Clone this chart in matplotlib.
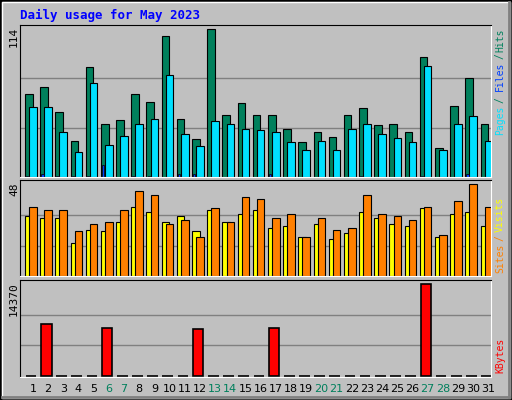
import matplotlib
matplotlib.use("Agg")
import matplotlib.pyplot as plt
from matplotlib.patches import Rectangle
import numpy as np

days = list(range(1, 32))
weekend = [6, 7, 13, 14, 20, 21, 27, 28]

hits = [63.7, 69, 50, 27.5, 84.5, 41, 43.7, 63.7, 57.5, 108.4, 44.4, 29, 114, 47.5, 56.8, 47.5,
        47.5, 36.7, 26.7, 34.4, 30.6, 47.5, 52.9, 39.8, 40.6, 34.4, 92.2, 22, 54.4, 76, 41]
pages = [53.7, 53.7, 34.4, 19, 72.2, 24.4, 31.4, 41, 44.4, 78.3, 32.9, 23.6, 42.9, 40.6, 36.7, 36,
         34.4, 26.7, 20.6, 27.5, 20.6, 36.7, 40.6, 32.9, 29.8, 26.7, 85.3, 20.6, 41, 46.8, 27.5]
files = [1, 2, 1, 1, 1, 9, 0, 1, 1, 0, 2, 2, 0, 0, 0, 0, 2, 0, 0, 0, 0, 0, 1, 0, 0, 0, 1, 0, 0, 2, 0]
visits = [31.3, 30.3, 30.3, 17.2, 24, 23.5, 28.2, 36, 33.4, 28.2, 31.3, 23.5, 34.4, 28.2, 32.3, 34.4,
          25, 26.1, 20.3, 27.1, 19.3, 22.4, 33.4, 30.3, 27.1, 26.1, 35.5, 20.3, 32.3, 33.4, 26.1]
sites = [36, 34.4, 34.4, 23.5, 27.1, 28.2, 34.4, 44.3, 42.3, 27.1, 29.2, 20.3, 35.5, 28.2, 41.2, 40.2,
         30.3, 32.3, 20.3, 30.3, 24, 25, 42.3, 32.3, 31.3, 29.2, 36, 21.4, 39.1, 48, 36]
kbytes = [0, 8047, 0, 0, 0, 7420, 0, 0, 0, 0, 0, 7263, 0, 0, 0, 0, 7420, 0, 0, 0, 0, 0, 0, 0, 0, 0,
          14370, 0, 0, 0, 0]

GRAY = "#C0C0C0"
W, H = 512, 400
MONO = "DejaVu Sans Mono"
fig = plt.figure(figsize=(5.12, 4.0), dpi=100, facecolor=GRAY)

# outer bevel
fig.patches.append(Rectangle((0, 0), 1, 1, transform=fig.transFigure, fill=False, ec="black", lw=2))
fig.patches.append(Rectangle((2 / W, 2 / H), 1 - 4 / W, 1 - 4 / H, transform=fig.transFigure,
                             fill=False, ec="white", lw=1))
fig.lines.append(plt.Line2D([2 / W, 1 - 3 / W], [3 / H, 3 / H], transform=fig.transFigure, color="#808080", lw=2))
fig.lines.append(plt.Line2D([1 - 3 / W, 1 - 3 / W], [3 / H, 1 - 2 / H], transform=fig.transFigure, color="#808080", lw=2))

x0 = np.array(days) - 1


def panel(top, bottom):
    ax = fig.add_axes([20 / W, (H - bottom) / H, 470.7 / W, (bottom - top) / H])
    ax.set_facecolor(GRAY)
    ax.set_xlim(0, 31)
    ax.set_xticks([])
    ax.set_yticks([])
    ax.spines["top"].set_color("black")
    ax.spines["left"].set_color("black")
    ax.spines["right"].set_color("white")
    ax.spines["bottom"].set_color("white")
    return ax


def side(parts):
    for txt, col, yy in parts:
        fig.text(500 / W, 1 - yy / H, txt, rotation=90, color=col, fontsize=7, family=MONO,
                 ha="center", va="top")


fig.text(20 / W, 1 - 15 / H, "Daily usage for May 2023", color="#0000FF", fontsize=9,
         fontweight="bold", family=MONO, va="center")

# hits / files / pages
ax1 = panel(25, 177)
ax1.set_ylim(0, 117.1)
for g in [38, 76]:
    ax1.axhline(g, color="#808080", lw=1, zorder=0)
ax1.bar(x0 + 0.33, hits, 0.5, align="edge", color="#00805C", ec="black", lw=0.8)
ax1.bar(x0 + 0.6, pages, 0.5, align="edge", color="#00E0FF", ec="black", lw=0.8)
ax1.bar(x0 + 0.4, files, 0.15, align="edge", color="#0040FF", ec="black", lw=0.5)
fig.text(14 / W, 1 - 27 / H, "114", rotation=90, fontsize=8, family=MONO, ha="center", va="top")
side([("Hits", "#00805C", 28), ("/", "#00805C", 53), ("Files", "#0040FF", 62),
      ("/", "#00805C", 97), ("Pages", "#00E0FF", 106)])

# visits / sites
ax2 = panel(180, 276.3)
ax2.set_ylim(0, 50.3)
for g in [16, 32]:
    ax2.axhline(g, color="#808080", lw=1, zorder=0)
ax2.bar(x0 + 0.33, visits, 0.5, align="edge", color="#FFFF00", ec="black", lw=0.8)
ax2.bar(x0 + 0.6, sites, 0.5, align="edge", color="#FF8000", ec="black", lw=0.8)
fig.text(14 / W, 1 - 182 / H, "48", rotation=90, fontsize=8, family=MONO, ha="center", va="top")
side([("Visits", "#FFFF00", 197), ("/", "#FF8000", 235), ("Sites", "#FF8000", 244)])

# kbytes
ax3 = panel(280.3, 377)
ax3.set_ylim(-200, 14945)
for g in [4790, 9580]:
    ax3.axhline(g, color="#808080", lw=1, zorder=0)
ax3.bar(x0 + 0.38, kbytes, 0.7, align="edge", color="#FF0000", ec="black", lw=1.2, clip_on=False)
fig.text(14 / W, 1 - 282 / H, "14370", rotation=90, fontsize=8, family=MONO, ha="center", va="top")
side([("KBytes", "#FF0000", 338)])

for d in days:
    xp = (20 + (d - 1 + 0.85) * 470.7 / 31) / W
    fig.text(xp, 1 - 389 / H, str(d), fontsize=8, ha="center", va="center",
             color="#00805C" if d in weekend else "black")

fig.savefig("out.png", dpi=100, facecolor=GRAY)
